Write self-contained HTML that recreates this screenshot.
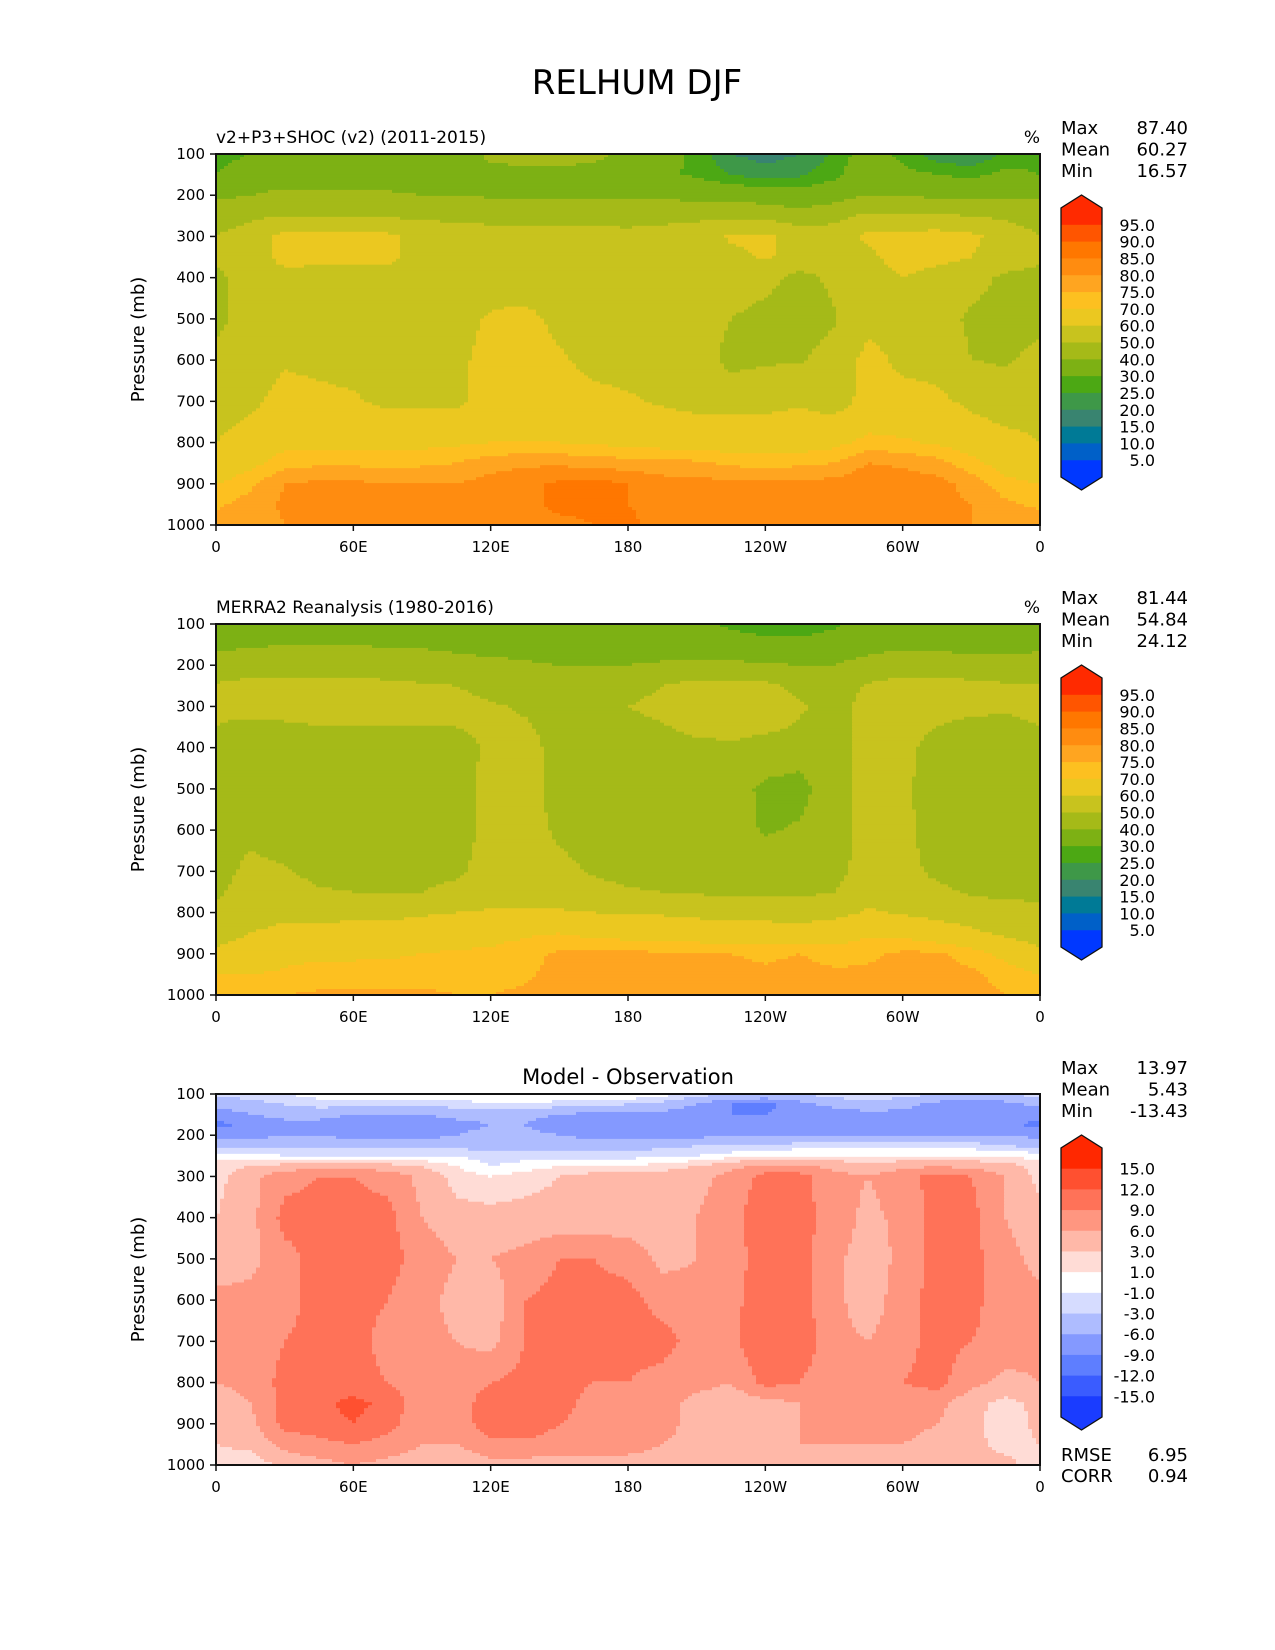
<!DOCTYPE html>
<html><head><meta charset="utf-8"><style>
html,body{margin:0;padding:0;background:#fff;}
svg{display:block;font-family:"DejaVu Sans","Liberation Sans",sans-serif;}
</style></head><body>
<svg id="fig" width="1275" height="1650" viewBox="0 0 1275 1650" xmlns="http://www.w3.org/2000/svg">
<rect x="0" y="0" width="1275" height="1650" fill="#fff"/>
<text x="637" y="94" font-size="34" text-anchor="middle">RELHUM DJF</text>
</svg>
<script>
const lons=[0,15,30,45,60,75,90,105,120,135,150,165,180,195,210,225,240,255,270,285,300,315,330,345,360];
const modelPres=[100,150,200,250,300,350,400,500,600,700,800,850,900,950,1000];
const obsPres=[100,150,200,250,300,350,400,500,600,700,750,800,850,900,950,1000];
const diffPres=[100,125,150,175,200,225,250,275,300,400,500,600,700,800,850,900,950,1000];
const yTicks=[100,200,300,400,500,600,700,800,900,1000];
const xTickVals=[0,60,120,180,240,300,360];
const xTickLabels=["0","60E","120E","180","120W","60W","0"];
const modelVals=[
[28,30,35,35,35,35,35,35,42,44,44,42,38,34,28,20,18,20,26,34,28,22,20,26,28],
[30,34,36,36,36,36,36,36,37,37,37,37,35,31,29,25,22,24,28,36,32,30,28,32,30],
[38,40,42,41,41,41,40,40,39,39,39,39,38,38,37,36,35,33,36,40,40,38,38,38,38],
[46,48,50,49,49,49,48,48,47,47,47,46,46,47,48,48,47,44,47,52,52,51,50,48,46],
[50,54,63,63,62,62,57,54,54,54,54,54,53,54,55,61,62,56,55,62,63,64,62,56,50],
[52,55,63,62,62,62,57,55,55,55,55,55,55,55,55,58,61,57,55,58,64,63,60,56,52],
[47,56,57,57,57,57,56,56,56,56,56,56,56,56,56,55,53,47,52,56,60,56,54,48,47],
[47,55,56,56,56,56,56,57,61,62,58,56,56,56,55,50,47,45,49,57,56,55,48,45,47],
[53,56,59,58,57,57,57,58,63,64,61,58,57,56,55,47,49,49,54,63,58,57,50,49,53],
[56,58,63,62,61,58,58,58,64,64,63,62,61,59,57,57,57,59,56,63,63,62,58,55,56],
[60,64,68,67,68,68,68,69,70,70,70,69,68,67,67,66,67,66,68,72,71,69,66,63,60],
[63,68,73,74,74,73,74,75,78,79,79,78,77,77,76,74,73,74,75,80,79,77,72,67,63],
[70,74,80,81,81,80,80,80,82,84,86,87,85,82,82,81,81,81,82,84,83,82,78,72,70],
[74,77,81,82,82,82,81,82,82,84,86,86,85,84,82,82,82,83,82,83,83,82,80,76,74],
[78,77,80,82,84,83,82,82,82,83,84,85,86,83,84,84,84,84,82,83,82,82,80,77,78]];
const obsVals=[
[35,36,37,37,37,36,35,34,33,33,33,33,33,32,31,29,27,27,29,34,36,33,31,32,35],
[38,39,40,40,40,39,39,38,37,37,36,36,36,36,35,33,32,32,33,36,38,37,36,36,38],
[44,45,46,46,46,45,44,43,42,41,40,40,40,41,42,42,41,40,40,44,46,46,45,44,44],
[51,53,53,53,53,52,51,50,47,46,45,44,45,50,53,53,52,48,45,51,53,53,52,51,51],
[52,54,55,54,54,54,53,53,51,49,47,46,50,54,56,56,55,51,47,53,54,53,52,51,52],
[50,47,48,50,50,50,50,50,52,51,47,45,46,49,53,54,52,49,47,53,54,50,48,48,50],
[48,45,45,45,46,46,46,46,52,53,47,45,45,46,47,48,46,44,47,53,53,46,45,46,48],
[46,45,45,45,45,45,45,46,53,54,46,45,45,45,45,44,38,37,46,53,52,45,45,44,46],
[46,48,45,45,45,45,45,46,53,55,48,45,45,45,45,44,39,41,46,53,53,45,44,43,46],
[47,52,51,47,46,46,46,48,54,55,53,49,47,46,46,46,46,47,47,54,53,48,46,46,47],
[49,53,54,51,50,50,50,53,56,56,55,53,51,50,49,48,48,48,50,56,55,52,49,48,49],
[51,55,57,57,58,58,59,60,61,61,61,60,59,59,58,57,57,56,57,61,59,57,55,53,51],
[56,60,63,63,63,63,64,66,68,69,70,68,67,66,65,64,64,64,66,69,68,65,62,58,56],
[62,64,68,69,69,69,70,71,71,73,76,76,76,76,76,75,74,75,73,74,76,76,73,68,62],
[70,70,71,72,72,73,73,73,73,74,77,77,77,77,77,77,76,77,76,76,77,77,76,73,70],
[74,74,75,76,76,76,76,75,75,76,77,77,77,77,77,77,77,77,77,77,77,77,77,75,74]];
const diffVals=[
[-2,-2,-1,0,1,1,0,0,1,1,1,1,1,0,-2,-3,-3,-3,-2,-1,-2,-3,-3,-3,-2],
[-5,-4,-3,-2,-2,-2,-2,-2,-1,-1,-2,-2,-3,-4,-6,-9,-10,-7,-5,-4,-5,-7,-9,-7,-5],
[-8,-6,-5,-5,-6,-6,-6,-5,-5,-5,-6,-7,-7,-7,-8,-9,-9,-8,-8,-7,-7,-8,-9,-8,-8],
[-10,-8,-7,-7,-8,-8,-8,-7,-6,-6,-8,-8,-8,-8,-8,-8,-8,-8,-8,-8,-8,-8,-8,-8,-10],
[-7,-7,-6,-6,-7,-7,-7,-6,-5,-5,-6,-7,-7,-7,-7,-6,-6,-6,-6,-6,-6,-6,-6,-6,-7],
[-4,-4,-4,-4,-4,-4,-4,-4,-4,-4,-4,-4,-4,-4,-3,-3,-3,-2,-2,-2,-2,-2,-2,-3,-4],
[0,0,-1,-1,-1,-1,-1,-1,-2,-2,-2,-2,-2,-1,-1,0,1,1,1,1,1,1,1,1,0],
[2,3,4,5,5,4,3,1,-1,0,1,1,1,2,3,5,7,7,5,4,5,6,5,4,2],
[2,5,8,9,9,8,5,2,1,2,3,4,4,4,5,7,10,10,7,6,8,10,9,6,2],
[3,5,10,10,10,10,6,4,4,4,4,4,4,5,6,8,11,10,8,5,7,10,10,6,4],
[4,5,8,10,10,10,8,6,6,7,9,9,8,5,6,8,10,10,7,4,7,10,10,7,5],
[7,7,8,10,10,9,7,5,4,9,10,10,10,8,7,8,11,10,7,4,8,10,10,7,7],
[7,7,9,10,10,8,7,6,5,9,10,10,10,10,8,8,12,11,7,6,8,10,9,8,7],
[6,7,10,10,10,9,7,7,9,10,10,9,9,8,7,6,10,9,7,7,9,10,7,5,6],
[4,6,10,11,13,11,7,7,11,12,10,8,7,7,5,4,5,6,7,7,8,7,4,2,4],
[4,5,10,11,12,10,7,7,11,12,9,8,8,7,5,4,5,6,6,8,7,6,4,1,4],
[3,4,7,8,9,8,6,6,8,8,7,7,7,6,5,4,5,6,6,6,6,5,4,2,3],
[1,1,4,5,6,5,4,4,5,5,5,5,5,5,5,4,5,5,5,5,5,5,4,4,1]];
const rhLevels=[5,10,15,20,25,30,40,50,60,70,75,80,85,90,95];
const rhLabels=["5.0","10.0","15.0","20.0","25.0","30.0","40.0","50.0","60.0","70.0","75.0","80.0","85.0","90.0","95.0"];
const rhColors=["#0038ff","#0060c8","#007a96","#398470","#3e9848","#4ca814","#7db114","#a5ba18","#c8c31e","#ebc820","#fdc020","#ffa520","#ff8c10","#ff7700","#ff5500","#ff2a00"];
const dLevels=[-15,-12,-9,-6,-3,-1,1,3,6,9,12,15];
const dLabels=["-15.0","-12.0","-9.0","-6.0","-3.0","-1.0","1.0","3.0","6.0","9.0","12.0","15.0"];
const dColors=["#1a3cff","#3a5cff","#5e7eff","#8499ff","#aebcff","#d6dcff","#ffffff","#ffdcd6","#ffb8a8","#ff9680","#ff7258","#ff5030","#ff2800"];
const statsM=["87.40","60.27","16.57"], statsO=["81.44","54.84","24.12"], statsD=["13.97","5.43","-13.43"];

const NS="http://www.w3.org/2000/svg";
const svg=document.getElementById('fig');
function mk(tag,attrs,parent){const e=document.createElementNS(NS,tag);for(const k in attrs)e.setAttribute(k,attrs[k]);(parent||svg).appendChild(e);return e;}
const PX=216,PW=824,PH=371;
function xScale(lon){return PX+lon/360*PW;}
function yScale(p,top){return top+(p-100)/900*PH;}
function levelIdx(v,lv){let i=0;while(i<lv.length&&v>=lv[i])i++;return i;}
function sample(grid,pr,lon,p){
  let fi=lon/15; let i=Math.min(Math.floor(fi),lons.length-2); let tx=fi-i;
  let j=0; while(j<pr.length-2&&p>pr[j+1])j++;
  let ty=(p-pr[j])/(pr[j+1]-pr[j]); ty=Math.max(0,Math.min(1,ty));
  const a=grid[j][i],b=grid[j][i+1],c=grid[j+1][i],d=grid[j+1][i+1];
  return (a*(1-tx)+b*tx)*(1-ty)+(c*(1-tx)+d*tx)*ty;
}
function panel(name,top,grid,pr,lv,cols,title,titleCentered,stats,cbLabels,extra){
  const g=mk('g',{},svg);
  
  
  const nx=206,ny=124,dy=PH/ny;
  for(let j=0;j<ny;j++){
    const p=100+(j+0.5)/ny*900;
    let start=0,cur=-1;
    for(let i=0;i<=nx;i++){
      let idx=-2;
      if(i<nx){const lon=(i+0.5)/nx*360;idx=levelIdx(sample(grid,pr,lon,p),lv);}
      if(idx!==cur){
        if(cur>=0){
          const x0=xScale(start/nx*360),x1=xScale(i/nx*360);
          const r=mk('rect',{x:x0.toFixed(2),y:(yScale(p,top)-dy/2).toFixed(2),width:(x1-x0+0.6).toFixed(2),height:(dy+0.6).toFixed(2),fill:cols[cur]},g);
          
          
        }
        cur=idx;start=i;
      }
    }
  }
  const fr=mk('rect',{x:PX,y:top,width:PW,height:PH,fill:'none',stroke:'#111','stroke-width':2},svg);
  
  
  yTicks.forEach(p=>{
    const y=yScale(p,top);
    mk('line',{x1:PX-6,x2:PX,y1:y,y2:y,stroke:'#111','stroke-width':1.5});
    const t=mk('text',{x:PX-11,y:y+5,'font-size':15,'text-anchor':'end'});t.textContent=p;
    
    
  });
  xTickVals.forEach((v,k)=>{
    const x=xScale(v);
    mk('line',{x1:x,x2:x,y1:top+PH,y2:top+PH+6,stroke:'#111','stroke-width':1.5});
    const t=mk('text',{x:x,y:top+PH+27,'font-size':15,'text-anchor':'middle'});t.textContent=xTickLabels[k];
    
    
  });
  const yt=mk('text',{x:0,y:0,'font-size':18,'text-anchor':'middle',transform:`translate(144,${top+PH/2}) rotate(-90)`});
  yt.textContent='Pressure (mb)';
  
  
  const tt=titleCentered?mk('text',{x:PX+PW/2,y:top-10,'font-size':21,'text-anchor':'middle'}):mk('text',{x:PX,y:top-11,'font-size':17});
  tt.textContent=title;
  
  
  if(!titleCentered){const u=mk('text',{x:PX+PW,y:top-11,'font-size':17,'text-anchor':'end'});u.textContent='%';
    
    }
  ['Max','Mean','Min'].forEach((s,k)=>{
    const a=mk('text',{x:1061,y:top-20+k*21.5,'font-size':18});a.textContent=s;
    
    
    const b=mk('text',{x:1188,y:top-20+k*21.5,'font-size':18,'text-anchor':'end'});b.textContent=stats[k];
    
    
  });
  const cx=1061,cw=41,ct=top+54,cbH=269,n=cols.length,bh=cbH/n,tip=13;
  const cg=mk('g',{},svg);
  
  
  for(let k=0;k<n;k++){
    const ci=n-1-k; const y0=ct+k*bh;
    let el;
    if(k===0) el=mk('polygon',{points:`${cx},${y0+bh+0.5} ${cx},${y0} ${cx+cw/2},${y0-tip} ${cx+cw},${y0} ${cx+cw},${y0+bh+0.5}`,fill:cols[ci]},cg);
    else if(k===n-1) el=mk('polygon',{points:`${cx},${y0} ${cx},${y0+bh} ${cx+cw/2},${y0+bh+tip} ${cx+cw},${y0+bh} ${cx+cw},${y0}`,fill:cols[ci]},cg);
    else el=mk('rect',{x:cx,y:y0,width:cw,height:bh+0.5,fill:cols[ci]},cg);
    
    
  }
  mk('polygon',{points:`${cx},${ct+cbH} ${cx},${ct} ${cx+cw/2},${ct-tip} ${cx+cw},${ct} ${cx+cw},${ct+cbH} ${cx+cw/2},${ct+cbH+tip}`,fill:'none',stroke:'#111','stroke-width':1.3},cg);
  cbLabels.forEach((l,k)=>{
    const y=ct+cbH-(k+1)*bh;
    const t=mk('text',{x:1155,y:y+6,'font-size':16,'text-anchor':'end'},cg);t.textContent=l;
    
    
  });
  if(extra){
    [['RMSE',extra[0]],['CORR',extra[1]]].forEach((s,k)=>{
      const a=mk('text',{x:1061,y:top+PH-4+k*21,'font-size':18});a.textContent=s[0];
      
      
      const b=mk('text',{x:1188,y:top+PH-4+k*21,'font-size':18,'text-anchor':'end'});b.textContent=s[1];
      
      
    });
  }
}
panel('model-panel',154,modelVals,modelPres,rhLevels,rhColors,'v2+P3+SHOC (v2) (2011-2015)',false,statsM,rhLabels,null);
panel('obs-panel',624,obsVals,obsPres,rhLevels,rhColors,'MERRA2 Reanalysis (1980-2016)',false,statsO,rhLabels,null);
panel('diff-panel',1094,diffVals,diffPres,dLevels,dColors,'Model - Observation',true,statsD,dLabels,['6.95','0.94']);
</script>
</body></html>
